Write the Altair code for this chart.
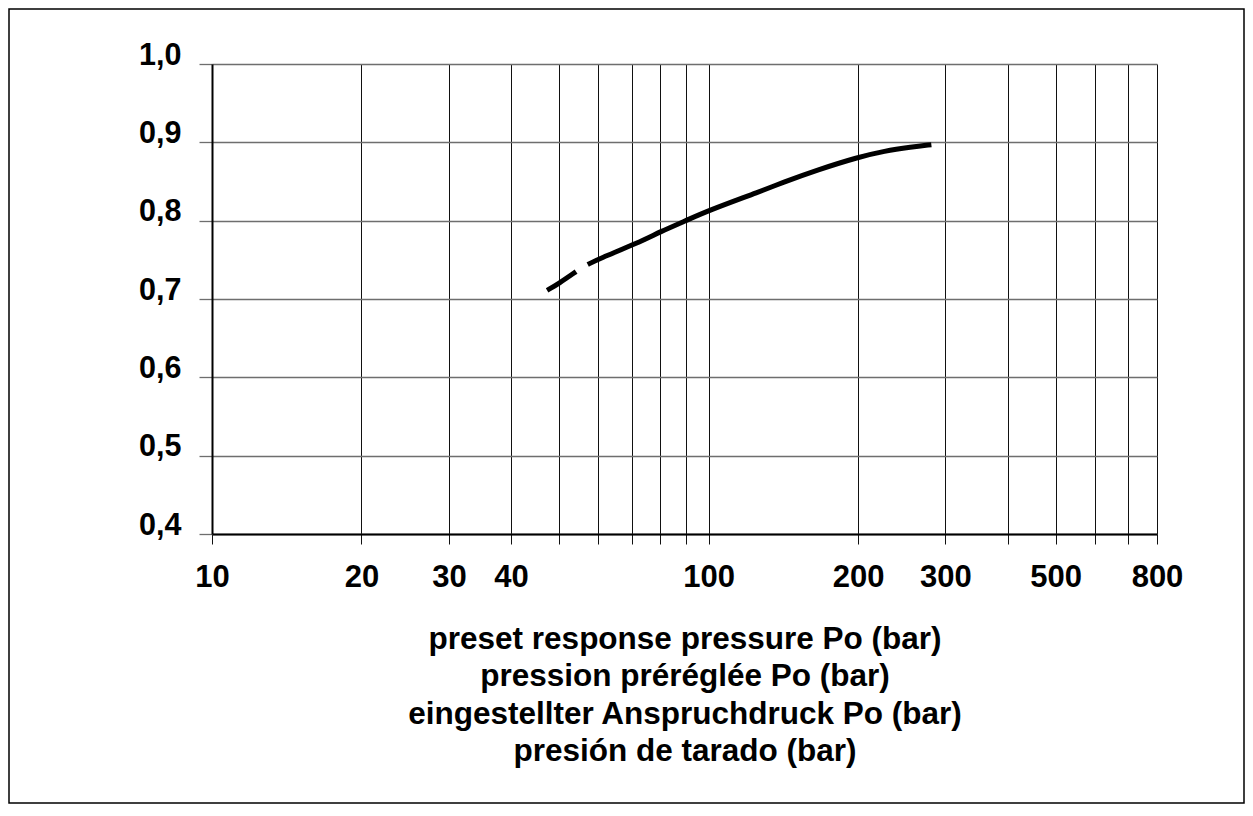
import altair as alt
import pandas as pd

# ---- data ----
seg1_pressure = [47.3, 50.0, 54.1]
seg1_factor = [0.711, 0.720, 0.735]
seg2_pressure = [57.1, 60, 72.3, 80, 90, 100, 128, 140, 166, 200, 226, 256, 281]
seg2_factor = [0.744, 0.751, 0.772, 0.786, 0.800, 0.813, 0.838, 0.848, 0.865, 0.881, 0.889, 0.894, 0.897]

x_ticks = [10, 20, 30, 40, 50, 60, 70, 80, 90, 100, 200, 300, 400, 500, 600, 700, 800]
x_labeled = [10, 20, 30, 40, 100, 200, 300, 500, 800]
y_ticks = [0.4, 0.5, 0.6, 0.7, 0.8, 0.9, 1.0]
title_lines = [
    "preset response pressure Po (bar)",
    "pression préréglée Po (bar)",
    "eingestellter Anspruchdruck Po (bar)",
    "presión de tarado (bar)",
]

rows = []
for p, f in zip(seg1_pressure, seg1_factor):
    rows.append({"p": p, "f": f, "seg": "a"})
for p, f in zip(seg2_pressure, seg2_factor):
    rows.append({"p": p, "f": f, "seg": "b"})
df = pd.DataFrame(rows)

FONT = "Liberation Sans"
W, H = 945, 470

label_list = "[" + ",".join(str(v) for v in x_labeled) + "]"

line = alt.Chart(df).mark_line(
    color="black", strokeWidth=5, strokeCap="butt", interpolate="basis"
).encode(
    x=alt.X(
        "p:Q",
        scale=alt.Scale(type="log", domain=[10, 800], nice=False, zero=False),
        axis=alt.Axis(
            values=x_ticks,
            labelExpr=f"indexof({label_list}, datum.value) >= 0 ? format(datum.value, 'd') : ''",
            grid=True,
            gridColor="#111111",
            gridWidth=1,
            ticks=True,
            tickSize=10,
            tickColor="#111111",
            tickWidth=1,
            domain=True,
            domainColor="black",
            domainWidth=2,
            labelFont=FONT,
            labelFontSize=31,
            labelFontWeight="bold",
            labelColor="black",
            labelBaseline="alphabetic",
            labelPadding=42,
            labelOverlap=False,
            labelFlush=False,
            title=title_lines,
            titleFont=FONT,
            titleFontSize=31.5,
            titleFontWeight="bold",
            titleColor="black",
            titleLineHeight=37.5,
            titleBaseline="alphabetic",
            titleAlign="center",
            titleX=W / 2,
            titleY=114,
        ),
    ),
    y=alt.Y(
        "f:Q",
        scale=alt.Scale(domain=[0.4, 1.0], nice=False, zero=False),
        axis=alt.Axis(
            values=y_ticks,
            labelExpr="replace(format(datum.value, '.1f'), '.', ',')",
            grid=True,
            gridColor="#6e6e6e",
            gridWidth=1.3,
            ticks=True,
            tickSize=13,
            tickColor="#6e6e6e",
            tickWidth=1.3,
            domain=True,
            domainColor="black",
            domainWidth=2,
            labelFont=FONT,
            labelFontSize=30.5,
            labelFontWeight="bold",
            labelColor="black",
            labelBaseline="alphabetic",
            labelAlign="right",
            labelPadding=18,
            labelOverlap=False,
            labelFlush=False,
            title=None,
        ),
    ),
    detail="seg:N",
)

border = alt.Chart(alt.Data(values=[{"a": 1}])).mark_rect(
    filled=False, stroke="black", strokeWidth=1.5
).encode(
    x=alt.value(-203),
    x2=alt.value(1032),
    y=alt.value(-55),
    y2=alt.value(739),
)

chart = alt.layer(border, line).properties(
    width=W,
    height=H,
    autosize=alt.AutoSizeParams(type="none"),
    padding={"left": 204, "top": 56, "right": 88, "bottom": 270},
).configure_view(strokeWidth=0)

chart.save("out.html", embed_options={"renderer": "svg", "actions": False})
